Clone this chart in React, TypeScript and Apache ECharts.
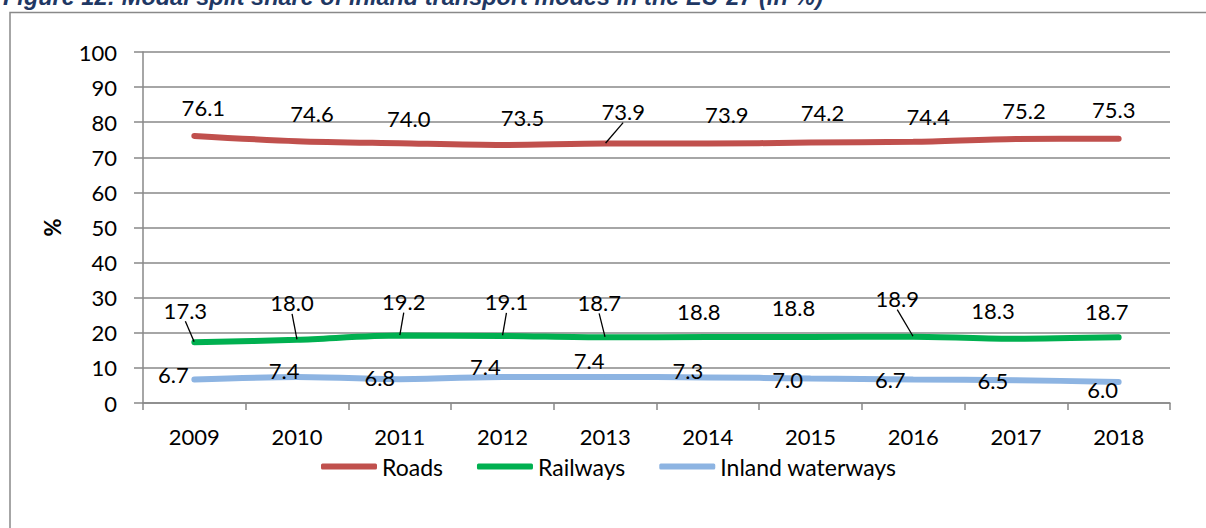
import React, { useEffect, useRef } from "react";
import * as echarts from "echarts";

const titleText = "Figure 12: Modal split share of inland transport modes in the EU-27 (in %)";
const years = ["2009", "2010", "2011", "2012", "2013", "2014", "2015", "2016", "2017", "2018"];
const roads = [76.1, 74.6, 74.0, 73.5, 73.9, 73.9, 74.2, 74.4, 75.2, 75.3];
const railways = [17.3, 18.0, 19.2, 19.1, 18.7, 18.8, 18.8, 18.9, 18.3, 18.7];
const waterways = [6.7, 7.4, 6.8, 7.4, 7.4, 7.3, 7.0, 6.7, 6.5, 6.0];

// label displacement (px) from each point, as in the reference
const roadsLabelOffsets = [[9, -28], [15, -28], [9, -25], [20, -28], [18, -32], [19, -29], [12, -30], [15, -25], [8, -29], [-5, -29]];
const railLabelOffsets = [[-9, -32], [-5, -37], [4, -34], [4, -34], [-6, -35], [-9, -26], [-17, -30], [-16, -38], [-23, -28], [-12, -26]];
const waterLabelOffsets = [[-21, -5], [-13, -7], [-20, -2], [-17, -11], [-16, -17], [-20, -7], [-23, 1], [-23, 0], [-23, 0], [-16, 8]];
const roadsLeaders = [false, false, false, false, true, false, false, false, false, false];
const railLeaders = [true, true, true, true, true, false, false, true, false, false];
const waterLeaders = [false, false, false, false, false, false, false, false, false, false];

const FONT = "Lato";
const GRAY = "#898989";

function makeSeries(name: string, values: number[], color: string, offsets: number[][], leaders: boolean[]) {
  return {
    name,
    type: "line",
    data: values.map((v, i) => ({ value: v, labelLine: { show: leaders[i] } })),
    smooth: 0.3,
    symbol: "circle",
    symbolSize: 1,
    showSymbol: true,
    lineStyle: { color, width: 6, cap: "round" },
    itemStyle: { color },
    label: {
      show: true,
      position: "inside",
      formatter: (p: any) => Number(p.value).toFixed(1),
      color: "#000",
      fontSize: 22,
      fontFamily: FONT,
    },
    labelLayout: (p: any) => ({ dx: offsets[p.dataIndex][0], dy: offsets[p.dataIndex][1] }),
    labelLine: { show: false, length2: 0, lineStyle: { color: "#000", width: 1.3 } },
    emphasis: { disabled: true },
  };
}

export default function App() {
  const ref = useRef<HTMLDivElement>(null);
  useEffect(() => {
    if (!ref.current) return;
    const chart = echarts.init(ref.current, undefined, { renderer: "svg" });
    chart.setOption({
      animation: false,
      backgroundColor: "#fff",
      graphic: [
        {
          type: "rect",
          silent: true,
          z: -10,
          shape: { x: 10, y: 12.5, width: 1400, height: 800 },
          style: { fill: "none", stroke: GRAY, lineWidth: 1.5 },
        },
        {
          type: "text",
          silent: true,
          style: {
            x: 3,
            y: -3,
            text: titleText,
            fill: "#1F3864",
            font: `italic bold 23.5px "Liberation Sans", Arial, sans-serif`,
            verticalAlign: "middle",
            align: "left",
          },
        },
      ],
      grid: { left: 143, right: 36, top: 52, bottom: 125, containLabel: false },
      legend: {
        data: ["Roads", "Railways", "Inland waterways"],
        left: 316,
        top: 450,
        icon: "roundRect",
        itemWidth: 56,
        itemHeight: 6,
        itemGap: 34,
        textStyle: { fontSize: 23, fontFamily: FONT, color: "#000" },
      },
      xAxis: {
        type: "category",
        data: years,
        boundaryGap: true,
        axisLine: { show: true, lineStyle: { color: GRAY, width: 1.5 } },
        axisTick: { show: true, length: 7, lineStyle: { color: GRAY, width: 1.5 } },
        axisLabel: { fontSize: 22, fontFamily: FONT, color: "#000", margin: 22 },
        splitLine: { show: false },
      },
      yAxis: {
        type: "value",
        min: 0,
        max: 100,
        interval: 10,
        name: "%",
        nameLocation: "middle",
        nameGap: 80,
        nameRotate: 90,
        nameTextStyle: { fontWeight: "bold", fontSize: 22, fontFamily: FONT, color: "#000" },
        axisLine: { show: true, lineStyle: { color: GRAY, width: 1.5 } },
        axisTick: { show: true, length: 9, lineStyle: { color: GRAY, width: 1.5 } },
        axisLabel: { fontSize: 22, fontFamily: FONT, color: "#000", margin: 26 },
        splitLine: { show: true, lineStyle: { color: GRAY, width: 1.5 } },
      },
      series: [
        makeSeries("Roads", roads, "#C0504D", roadsLabelOffsets, roadsLeaders),
        makeSeries("Railways", railways, "#00B050", railLabelOffsets, railLeaders),
        makeSeries("Inland waterways", waterways, "#8DB4E2", waterLabelOffsets, waterLeaders),
      ],
    });
    return () => chart.dispose();
  }, []);
  return (
    <div
      ref={ref}
      style={{ position: "absolute", left: 0, top: 0, width: 1206, height: 528 }}
    />
  );
}
